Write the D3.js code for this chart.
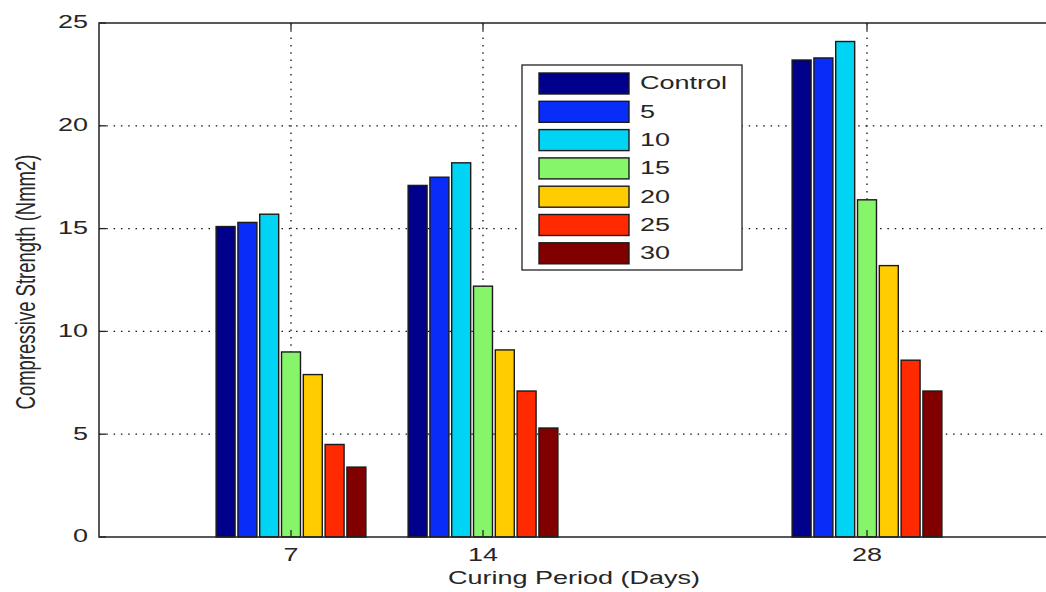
<!DOCTYPE html>
<html>
<head>
    <meta charset="utf-8" />
    <title>Compressive Strength</title>
    <script src="https://cdn.jsdelivr.net/npm/d3@7"></script>
    <style type="text/css">
        body { margin: 0; background: #fff; }
        text { font-family: "Liberation Sans", Arial, sans-serif; fill: #262626; }
    </style>
</head>
<body>
<div id="chart"></div>
<script type="text/javascript">
    // curing period (days) on the x axis
    var days = [7, 14, 28];
    var seriesNames = ["Control", "5", "10", "15", "20", "25", "30"];
    var colors = ["#00008c", "#0a2cf8", "#00d4f5", "#86f56a", "#ffcc00", "#ff2a00", "#800000"];
    // one array per series, values at 7, 14, 28 days
    var control = [15.1, 17.1, 23.2];
    var s5 = [15.3, 17.5, 23.3];
    var s10 = [15.7, 18.2, 24.1];
    var s15 = [9.0, 12.2, 16.4];
    var s20 = [7.9, 9.1, 13.2];
    var s25 = [4.5, 7.1, 8.6];
    var s30 = [3.4, 5.3, 7.1];
    var yTicks = [0, 5, 10, 15, 20, 25];

    var series = [control, s5, s10, s15, s20, s25, s30];

    var width = 1046, height = 592;
    // plot box (right edge falls outside the picture, as in the original)
    var pLeft = 99, pTop = 23, pBottom = 537, pRight = 1059;
    var sx = 1.5; // text looks stretched sideways in the original

    var svg = d3.select("#chart").append("svg")
        .attr("width", width)
        .attr("height", height);

    var x = d3.scaleLinear().domain([0, 35]).range([pLeft, pRight]);
    var y = d3.scaleLinear().domain([0, 25]).range([pBottom, pTop]);

    // bar offsets inside a group
    var groupW = 7 * 21.8;
    var inner = d3.scaleBand().domain(seriesNames)
        .range([-groupW / 2, groupW / 2])
        .paddingInner(0.13).paddingOuter(0.065);

    // grid (dotted)
    var grid = svg.append("g");
    grid.selectAll(".hg").data(yTicks.slice(1, -1)).enter().append("line")
        .attr("x1", pLeft).attr("x2", pRight)
        .attr("y1", function (d) { return y(d); })
        .attr("y2", function (d) { return y(d); })
        .attr("stroke", "#111").attr("stroke-width", 1.3)
        .attr("stroke-dasharray", "1.5,5.8");
    grid.selectAll(".vg").data(days).enter().append("line")
        .attr("x1", function (d) { return x(d); })
        .attr("x2", function (d) { return x(d); })
        .attr("y1", pTop).attr("y2", pBottom)
        .attr("stroke", "#111").attr("stroke-width", 1.3)
        .attr("stroke-dasharray", "1.5,5.8");

    // bars
    var groups = svg.selectAll(".grp").data(series).enter().append("g")
        .attr("fill", function (d, i) { return colors[i]; });
    groups.selectAll("rect")
        .data(function (d, i) { return d.map(function (v, j) { return { s: i, day: days[j], v: v }; }); })
        .enter().append("rect")
        .attr("x", function (d) { return x(d.day) + inner(seriesNames[d.s]); })
        .attr("y", function (d) { return y(d.v); })
        .attr("width", inner.bandwidth())
        .attr("height", function (d) { return pBottom - y(d.v); })
        .attr("stroke", "#1a1a1a").attr("stroke-width", 1.4);

    // axes box
    svg.append("rect")
        .attr("x", pLeft).attr("y", pTop)
        .attr("width", pRight - pLeft).attr("height", pBottom - pTop)
        .attr("fill", "none").attr("stroke", "#222").attr("stroke-width", 1.5);

    // ticks pointing inwards
    svg.selectAll(".yt").data(yTicks).enter().append("line")
        .attr("x1", pLeft).attr("x2", pLeft + 7)
        .attr("y1", function (d) { return y(d); })
        .attr("y2", function (d) { return y(d); })
        .attr("stroke", "#222").attr("stroke-width", 1.3);
    svg.selectAll(".xt").data(days).enter().append("line")
        .attr("x1", function (d) { return x(d); })
        .attr("x2", function (d) { return x(d); })
        .attr("y1", pTop).attr("y2", pTop + 7)
        .attr("stroke", "#222").attr("stroke-width", 1.3);
    svg.selectAll(".xb").data(days).enter().append("line")
        .attr("x1", function (d) { return x(d); })
        .attr("x2", function (d) { return x(d); })
        .attr("y1", pBottom).attr("y2", pBottom - 7)
        .attr("stroke", "#222").attr("stroke-width", 1.3);

    // tick labels
    svg.selectAll(".yl").data(yTicks).enter().append("text")
        .attr("transform", function (d) { return "translate(88," + y(d) + ") scale(" + sx + ",1)"; })
        .attr("text-anchor", "end")
        .attr("dy", "0.3em")
        .attr("font-size", "18px")
        .text(function (d) { return d; });
    svg.selectAll(".xl").data(days).enter().append("text")
        .attr("transform", function (d) { return "translate(" + x(d) + ",561) scale(" + sx + ",1)"; })
        .attr("text-anchor", "middle")
        .attr("font-size", "18px")
        .text(function (d) { return d; });

    // axis titles
    svg.append("text")
        .attr("transform", "translate(" + ((pLeft + pRight) / 2 - 5) + ",584) scale(" + sx + ",1)")
        .attr("text-anchor", "middle")
        .attr("font-size", "18px")
        .text("Curing Period (Days)");
    svg.append("text")
        .attr("transform", "translate(35," + ((pTop + pBottom) / 2 + 2) + ") scale(" + sx + ",1) rotate(-90)")
        .attr("text-anchor", "middle")
        .attr("font-size", "18.5px")
        .text("Compressive Strength (Nmm2)");

    // legend
    var lg = svg.append("g").attr("transform", "translate(522,65)");
    lg.append("rect")
        .attr("width", 220).attr("height", 205)
        .attr("fill", "#fff").attr("stroke", "#222").attr("stroke-width", 1.3);
    var rows = lg.selectAll(".row").data(seriesNames).enter().append("g")
        .attr("transform", function (d, i) { return "translate(0," + (18 + i * 28.3) + ")"; });
    rows.append("rect")
        .attr("x", 17).attr("y", -10)
        .attr("width", 90).attr("height", 21)
        .attr("fill", function (d, i) { return colors[i]; })
        .attr("stroke", "#1a1a1a").attr("stroke-width", 1.4);
    rows.append("text")
        .attr("transform", "translate(118,0) scale(" + sx + ",1)")
        .attr("dy", "0.36em")
        .attr("font-size", "18px")
        .text(function (d) { return d; });
</script>
</body>
</html>
